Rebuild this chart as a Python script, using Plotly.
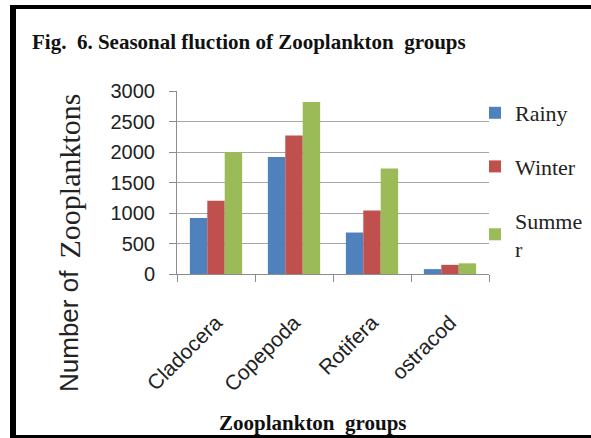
import plotly.graph_objects as go

categories = ["Cladocera", "Copepoda", "Rotifera", "ostracod"]
rainy = [920, 1920, 680, 80]
winter = [1200, 2270, 1040, 150]
summer = [2000, 2820, 1730, 175]
series_names = ["Rainy", "Winter", "Summe<br>r"]
colors = ["#4F81BD", "#C0504D", "#9BBB59"]
y_ticks = [0, 500, 1000, 1500, 2000, 2500, 3000]

W, H = 591, 438
L, R, T, B = 177, 102, 91, 164
pw, ph = W - L - R, H - T - B


def px(x):
    return (x - L) / pw


def py(y):
    return (H - B - y) / ph


fig = go.Figure()
for i, (name, vals) in enumerate(zip(series_names, [rainy, winter, summer])):
    fig.add_trace(go.Bar(x=categories, y=vals, name=name, marker_color=colors[i],
                         marker_line_width=0, legendgroup=f"g{i}"))

serif = "Liberation Serif, Times New Roman, serif"
sans = "Liberation Sans, Arial, sans-serif"

fig.update_layout(
    width=W, height=H,
    margin=dict(l=L, r=R, t=T, b=B, autoexpand=False),
    paper_bgcolor="white", plot_bgcolor="white",
    bargap=0.33, bargroupgap=0,
    showlegend=True,
    legend=dict(x=px(475), y=py(92), xanchor="left", yanchor="top",
                font=dict(family=serif, size=22, color="#222"),
                traceorder="grouped", tracegroupgap=22,
                bgcolor="rgba(0,0,0,0)", itemwidth=30),
    xaxis=dict(showline=True, linecolor="#8c8c8c", linewidth=1,
               ticks="outside", tickson="boundaries", ticklen=7, tickcolor="#8c8c8c",
               tickangle=-45, tickfont=dict(family=sans, size=21, color="#222"),
               ticklabelstandoff=27, showgrid=False),
    yaxis=dict(range=[0, 3000], tickvals=y_ticks, showgrid=True, gridcolor="#a6a6a6",
               gridwidth=1, showline=True, linecolor="#8c8c8c", linewidth=1,
               ticks="outside", ticklen=7, tickcolor="#8c8c8c",
               tickfont=dict(family=sans, size=20, color="#222"), ticklabelstandoff=10,
               zeroline=False),
    annotations=[
        dict(text="<b>Fig.  6. Seasonal fluction of Zooplankton  groups</b>",
             xref="paper", yref="paper", x=px(30), y=py(42), xanchor="left", yanchor="middle",
             showarrow=False, font=dict(family=serif, size=21, color="#111")),
        dict(text="Number of",
             xref="paper", yref="paper", x=px(69), y=py(394), xanchor="center", yanchor="bottom",
             textangle=-90, showarrow=False, font=dict(family=sans, size=26, color="#222")),
        dict(text="Zooplanktons",
             xref="paper", yref="paper", x=px(69), y=py(92), xanchor="center", yanchor="top",
             textangle=-90, showarrow=False, font=dict(family=serif, size=30, color="#222")),
        dict(text="<b>Zooplankton  groups</b>",
             xref="paper", yref="paper", x=px(313), y=py(423), xanchor="center", yanchor="middle",
             showarrow=False, font=dict(family=serif, size=21, color="#111")),
    ],
    shapes=[
        dict(type="rect", xref="paper", yref="paper", x0=px(10), x1=px(16), y0=py(438), y1=py(5),
             fillcolor="black", line_width=0, layer="above"),
        dict(type="rect", xref="paper", yref="paper", x0=px(10), x1=px(591), y0=py(9), y1=py(5),
             fillcolor="black", line_width=0, layer="above"),
        dict(type="rect", xref="paper", yref="paper", x0=px(10), x1=px(591), y0=py(438), y1=py(435),
             fillcolor="black", line_width=0, layer="above"),
    ],
)

fig.write_html("out.html")
